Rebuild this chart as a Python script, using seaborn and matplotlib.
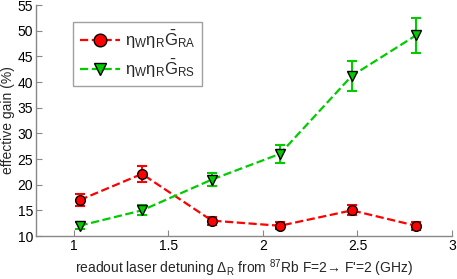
import numpy as np
import pandas as pd
import matplotlib
matplotlib.use("Agg")
import matplotlib.pyplot as plt
import seaborn as sns

detuning = [1.03, 1.36, 1.73, 2.09, 2.47, 2.81]
gain_ra = [17.0, 22.1, 13.0, 12.0, 15.0, 12.0]
err_ra = [1.2, 1.5, 0.8, 0.7, 1.0, 0.8]
gain_rs = [12.0, 15.0, 21.0, 26.0, 41.2, 49.1]
err_rs = [0.7, 1.0, 1.3, 1.7, 2.9, 3.4]

sns.set_style("white")
plt.rcParams['font.family'] = ['Liberation Sans', 'DejaVu Sans']
plt.rcParams['mathtext.fontset'] = 'custom'
plt.rcParams['mathtext.rm'] = 'Liberation Sans'
plt.rcParams['mathtext.it'] = 'Liberation Sans'
plt.rcParams['mathtext.bf'] = 'Liberation Sans:bold'

red = '#ff0000'
green = '#00cc00'

df = pd.DataFrame({'x': detuning, 'ra': gain_ra, 'rs': gain_rs})

fig = plt.figure(figsize=(4.57, 2.79), dpi=100)
ax = fig.add_axes([0.079, 0.154, 0.91, 0.828])

for col, err, color, marker, label in [
    ('ra', err_ra, red, 'o', r'$\mathregular{\eta_W\eta_R\bar{G}_{RA}}$'),
    ('rs', err_rs, green, 'v', r'$\mathregular{\eta_W\eta_R\bar{G}_{RS}}$'),
]:
    ax.errorbar(df['x'], df[col], yerr=err, fmt='none', ecolor=color,
                elinewidth=1.5, capsize=3.5, capthick=1.5, zorder=2)
    sns.lineplot(data=df, x='x', y=col, ax=ax, color=color, linestyle='--',
                 linewidth=1.6, marker=marker, markersize=7,
                 markerfacecolor=color, markeredgecolor='black',
                 markeredgewidth=1.0, label=label, zorder=3)

ax.set_xlim(0.8, 3)
ax.set_ylim(10, 55)
ax.set_xticks([1, 1.5, 2, 2.5, 3])
ax.set_xticklabels(['1', '1.5', '2', '2.5', '3'])
ax.set_yticks(np.arange(10, 56, 5))

for s in ['top', 'right']:
    ax.spines[s].set_visible(False)
for s in ['left', 'bottom']:
    ax.spines[s].set_color('#888888')
    ax.spines[s].set_linewidth(1.0)
ax.tick_params(direction='in', length=4, color='#888888', labelsize=10,
               labelcolor='black', pad=2, left=True, bottom=True)

ax.set_xlabel("readout laser detuning $\\mathregular{\\Delta_R}$ from $\\mathregular{^{87}}$Rb F=2\u2192 F'=2 (GHz)",
              fontsize=10, labelpad=3)
ax.set_ylabel('effective gain (%)', fontsize=10, labelpad=2)

leg = ax.legend(loc='upper left', bbox_to_anchor=(0.089, 0.926), borderaxespad=0,
                fontsize=12, frameon=True, fancybox=False, edgecolor='#888888',
                handlelength=2.4, handletextpad=0.3, borderpad=0.4, labelspacing=0.4,
                markerscale=1.3)
leg.get_frame().set_linewidth(1.0)

fig.savefig('out.png', dpi=100)
